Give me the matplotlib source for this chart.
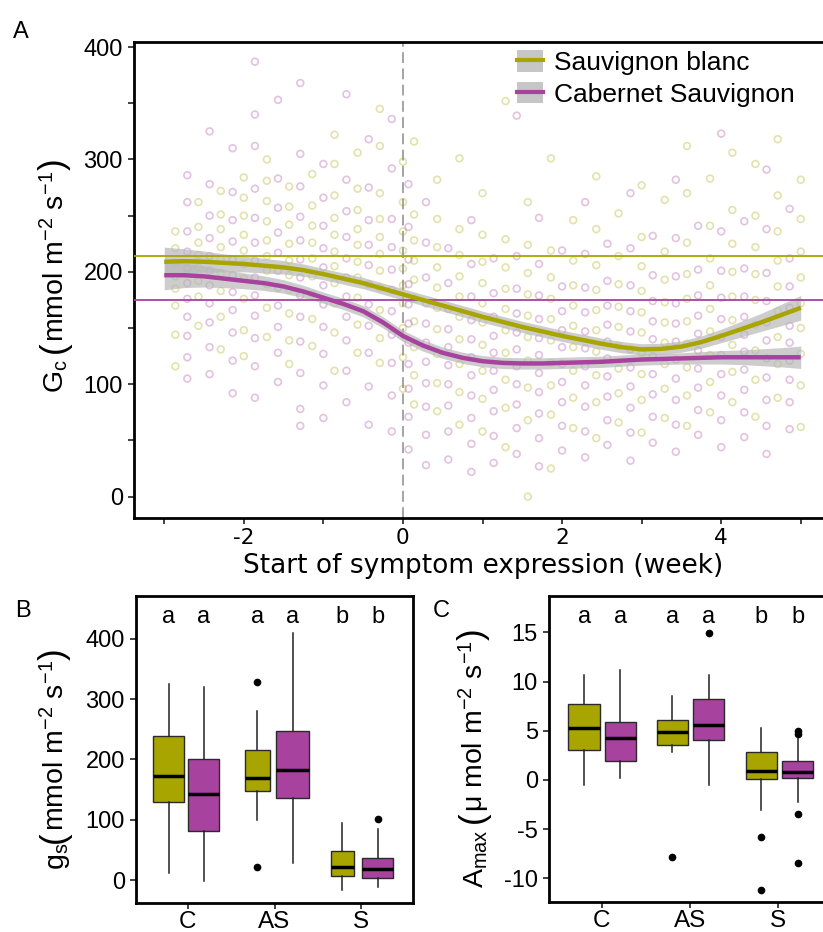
import numpy as np
import matplotlib
matplotlib.use("Agg")
import matplotlib.pyplot as plt
from matplotlib.patches import Patch
from matplotlib.lines import Line2D

plt.rcParams["font.family"] = ["Liberation Sans", "DejaVu Sans"]
plt.rcParams["mathtext.fontset"] = "custom"
plt.rcParams["mathtext.rm"] = "Liberation Sans"
plt.rcParams["mathtext.it"] = "Liberation Sans:italic"
plt.rcParams["mathtext.bf"] = "Liberation Sans:bold"
plt.rcParams["mathtext.default"] = "regular"

# cultivar colours
SB_COL = "#a8a500"
CS_COL = "#a7429f"

# ---- panel A: canopy conductance vs. week from symptom onset ----
sb_week = [-2.86, -2.57, -2.29, -2.00, -1.71, -1.43, -1.14, -0.86, -0.57, -0.29,
           0.00, 0.14, 0.43, 0.71, 1.00, 1.29, 1.57, 1.86, 2.14, 2.43,
           2.71, 3.00, 3.29, 3.57, 3.86, 4.14, 4.43, 4.71, 5.00]
sb_gc = [
    [116, 144, 170, 185, 196, 208, 221, 236],
    [152, 178, 192, 204, 215, 226, 240, 262],
    [131, 160, 183, 199, 211, 222, 238, 251, 272],
    [125, 148, 176, 194, 207, 219, 233, 250, 266, 284],
    [142, 168, 189, 201, 214, 228, 245, 263, 281, 300],
    [118, 139, 163, 184, 197, 210, 225, 242, 258, 276],
    [134, 158, 180, 196, 212, 226, 241, 259, 287],
    [112, 146, 172, 190, 205, 218, 233, 248, 268, 296, 322],
    [128, 153, 177, 195, 209, 224, 238, 255, 274, 306],
    [119, 141, 166, 186, 201, 216, 231, 247, 270, 312, 345],
    [96, 124, 150, 172, 188, 203, 219, 236, 262, 298],
    [82, 108, 133, 156, 176, 193, 210, 228, 251, 316],
    [76, 101, 127, 149, 168, 186, 204, 222, 247, 282],
    [64, 93, 118, 140, 160, 178, 196, 215, 238, 301],
    [58, 87, 112, 135, 155, 172, 190, 209, 233, 270],
    [44, 79, 104, 128, 148, 167, 185, 204, 229, 352],
    [0, 68, 97, 121, 142, 161, 180, 199, 224, 262],
    [25, 73, 99, 119, 139, 158, 176, 195, 219, 301],
    [61, 88, 112, 133, 152, 170, 188, 210, 246],
    [52, 84, 108, 129, 148, 166, 184, 206, 238, 285],
    [66, 92, 114, 134, 151, 169, 189, 214, 252],
    [57, 86, 109, 128, 146, 164, 183, 205, 231, 277],
    [70, 96, 118, 137, 155, 173, 193, 218, 264],
    [63, 90, 115, 136, 156, 176, 198, 226, 270, 312],
    [75, 102, 126, 147, 167, 188, 212, 241, 283],
    [84, 111, 135, 157, 178, 200, 225, 255, 306],
    [71, 104, 130, 153, 175, 198, 222, 250, 296],
    [88, 118, 142, 165, 187, 210, 236, 268, 318],
    [62, 99, 127, 150, 172, 195, 218, 247, 282],
]
cs_week = [-2.71, -2.43, -2.14, -1.86, -1.57, -1.29, -1.00, -0.71, -0.43, -0.14,
           0.07, 0.29, 0.57, 0.86, 1.14, 1.43, 1.71, 2.00, 2.29, 2.57,
           2.86, 3.14, 3.43, 3.71, 4.00, 4.29, 4.57, 4.86]
cs_gc = [
    [105, 124, 143, 160, 176, 190, 203, 218, 236, 262, 286],
    [109, 133, 155, 172, 188, 201, 214, 230, 250, 278, 325],
    [92, 121, 146, 166, 182, 197, 211, 227, 246, 271, 310],
    [88, 116, 141, 161, 179, 195, 210, 226, 248, 274, 312, 340, 387],
    [102, 128, 151, 170, 186, 201, 217, 235, 257, 283, 353],
    [63, 78, 110, 138, 160, 179, 195, 211, 228, 249, 276, 305, 368],
    [70, 99, 127, 151, 171, 188, 204, 221, 241, 266, 296],
    [84, 112, 139, 160, 178, 195, 212, 231, 254, 282, 358],
    [64, 98, 128, 152, 171, 189, 206, 224, 246, 275, 318],
    [58, 90, 119, 144, 165, 184, 202, 222, 247, 292, 336],
    [42, 71, 96, 118, 137, 154, 171, 189, 211, 240, 278],
    [28, 55, 80, 101, 120, 137, 154, 172, 195, 226, 262],
    [33, 58, 81, 100, 117, 133, 149, 167, 190, 221],
    [22, 47, 70, 90, 108, 124, 140, 157, 178, 207, 246],
    [30, 54, 76, 95, 112, 128, 143, 160, 181, 212],
    [38, 61, 82, 100, 116, 131, 146, 163, 185, 214, 339],
    [27, 52, 74, 93, 110, 126, 141, 158, 179, 207, 248],
    [41, 63, 84, 102, 118, 133, 148, 165, 187, 219],
    [35, 58, 80, 99, 116, 132, 147, 164, 186, 216, 262],
    [46, 68, 89, 107, 123, 138, 153, 170, 192, 225],
    [32, 57, 79, 98, 115, 131, 147, 165, 188, 221, 270],
    [48, 71, 91, 109, 125, 140, 156, 174, 197, 232],
    [40, 64, 86, 105, 122, 138, 154, 172, 196, 230, 282],
    [55, 77, 97, 114, 130, 145, 161, 179, 202, 241],
    [44, 68, 90, 109, 126, 142, 158, 177, 201, 236, 323],
    [53, 75, 95, 113, 129, 144, 160, 178, 203, 245],
    [38, 63, 86, 106, 123, 139, 155, 174, 199, 238, 291],
    [60, 84, 104, 121, 137, 152, 168, 187, 212, 256],
]

# loess fits (read every quarter week) and their standard error half-widths
fit_week = [-3, -2.75, -2.5, -2.25, -2, -1.75, -1.5, -1.25, -1, -0.75, -0.5, -0.25,
            0, 0.25, 0.5, 0.75, 1, 1.25, 1.5, 1.75, 2, 2.25, 2.5, 2.75,
            3, 3.25, 3.5, 3.75, 4, 4.25, 4.5, 4.75, 5]
sb_fit = [209, 209.5, 209, 208, 207, 205.5, 204, 201.5, 198, 194, 190, 185,
          180, 175, 170, 165, 160, 155.5, 151, 147, 143, 139.5, 136, 133,
          131, 131.5, 133.5, 137.5, 143, 149, 155, 161.5, 168]
sb_se = [13, 11, 9.5, 8, 7, 6.5, 6, 5.5, 5, 5, 5, 5, 5, 5, 5, 5, 5, 5, 5, 5,
         5, 5, 5, 5, 5, 5, 5, 5.5, 6, 7, 8, 9.5, 11]
cs_fit = [197, 197, 196, 194, 192, 190, 187, 182.5, 177, 171.5, 165, 155,
          143, 134.5, 128, 123.5, 120.5, 119, 118.5, 118.5, 119, 119.5, 120, 121,
          122, 122.5, 123, 123.5, 124, 124, 124, 124, 124]
cs_se = [13, 11, 9.5, 8, 7, 6.5, 6, 5.5, 5, 5, 5, 5, 5, 5, 5, 5, 5, 5, 5, 5,
         5, 5, 5, 5, 5, 5, 5, 5.5, 6, 6.5, 7.5, 8.5, 10]

# control means
sb_ctrl = 214
cs_ctrl = 175

# ---- panels B and C: box statistics ----
classes = ["C", "AS", "S"]
# order: C-SB, C-CS, AS-SB, AS-CS, S-SB, S-CS
gs_lo = [12, -1, 99, 29, -16, -11]
gs_q1 = [129, 81, 148, 136, 6, 3]
gs_med = [172, 143, 169, 182, 22, 19]
gs_q3 = [239, 200, 216, 247, 49, 37]
gs_hi = [325, 320, 280, 410, 95, 84]
gs_out = [[], [], [328, 22], [], [], [101]]
gs_letters = ["a", "a", "a", "a", "b", "b"]

amax_lo = [-0.5, 0.24, 2.84, -0.5, -3.1, -2.2]
amax_q1 = [3.05, 1.96, 3.59, 4.06, 0.14, 0.17]
amax_med = [5.3, 4.23, 4.87, 5.55, 0.95, 0.78]
amax_q3 = [7.68, 5.89, 6.1, 8.2, 2.84, 1.95]
amax_hi = [10.7, 11.2, 8.53, 10.7, 5.25, 4.4]
amax_out = [[], [], [-7.8], [14.99], [-5.8, -11.2], [5.0, 4.7, -3.47, -8.4]]
amax_letters = ["a", "a", "a", "a", "b", "b"]

box_cols = [SB_COL, CS_COL] * 3

W, H = 823, 932
TICK_FS = 17
LAB_FS = 20.5
PAREN_FS = 25


def px_axes(fig, left, top, right, bottom):
    return fig.add_axes([left / W, 1 - bottom / H, (right - left) / W, (bottom - top) / H])


def style_axes(ax):
    for s in ax.spines.values():
        s.set_linewidth(2.0)
    ax.tick_params(direction="out", length=4.5, width=1.3, color="#333333")


def draw_boxes(ax, lo, q1, med, q3, hi, out, pos, widths):
    stats = []
    for i in range(len(med)):
        stats.append(dict(whislo=lo[i], q1=q1[i], med=med[i], q3=q3[i],
                          whishi=hi[i], fliers=out[i]))
    bp = ax.bxp(stats, positions=pos, widths=widths, patch_artist=True,
                showcaps=False, manage_ticks=False,
                boxprops=dict(edgecolor="#2a2a2a", linewidth=1.0),
                medianprops=dict(color="black", linewidth=2.5),
                whiskerprops=dict(color="#222222", linewidth=1.1),
                flierprops=dict(marker="o", markerfacecolor="black",
                                markeredgecolor="black", markersize=4.5))
    for patch, c in zip(bp["boxes"], box_cols):
        patch.set_facecolor(c)


def vertical_label(fig, x_base, y_mid, pieces):
    # pieces: (text, fontsize, gap after in px); stacked bottom-to-top along a shared baseline
    rend = fig.canvas.get_renderer()
    texts, lens = [], []
    for s, fs, gap in pieces:
        t = fig.text(0, 0, s, fontsize=fs, rotation=90, rotation_mode="anchor",
                     ha="left", va="baseline")
        texts.append(t)
        lens.append(t.get_window_extent(rend).height + gap)
    y = y_mid + sum(lens) / 2
    for t, L in zip(texts, lens):
        t.set_position((x_base / W, 1 - y / H))
        y -= L


fig = plt.figure(figsize=(W / 100, H / 100), dpi=100)

# ---------------- panel A ----------------
axA = px_axes(fig, 134, 42, 831, 518)
style_axes(axA)
axA.axvline(0, color="#9d9d9d", lw=1.3, ls=(0, (6, 3)), zorder=1)

for weeks, vals, col in [(sb_week, sb_gc, SB_COL), (cs_week, cs_gc, CS_COL)]:
    xs = np.concatenate([[w] * len(v) for w, v in zip(weeks, vals)])
    ys = np.concatenate(vals)
    axA.scatter(xs, ys, s=24, facecolors="none", edgecolors=col,
                linewidths=1.2, alpha=0.32, zorder=2)

fw = np.array(fit_week)
for fit, se in [(sb_fit, sb_se), (cs_fit, cs_se)]:
    f = np.array(fit)
    e = np.array(se)
    axA.fill_between(fw, f - e, f + e, color="#b8b8b8", alpha=0.7, lw=0, zorder=3)

axA.axhline(sb_ctrl, color=SB_COL, lw=1.3, zorder=4)
axA.axhline(cs_ctrl, color=CS_COL, lw=1.3, zorder=4)
axA.plot(fw, sb_fit, color=SB_COL, lw=3.2, zorder=5, solid_capstyle="butt")
axA.plot(fw, cs_fit, color=CS_COL, lw=3.2, zorder=5, solid_capstyle="butt")

axA.set_xlim(-3.38, 5.38)
axA.set_ylim(-19, 404.5)
axA.set_xticks(np.arange(-3, 6))
axA.set_xticklabels(["" if t % 2 else str(t) for t in range(-3, 6)],
                    family="DejaVu Sans", fontsize=15.5)
axA.set_yticks(np.arange(0, 401, 50))
axA.set_yticklabels([str(t) if t % 100 == 0 else "" for t in range(0, 401, 50)],
                    fontsize=TICK_FS)
axA.tick_params(axis="x", pad=3)

handles = [(Patch(facecolor="#c6c6c6", edgecolor="none"), Line2D([], [], color=SB_COL, lw=3)),
           (Patch(facecolor="#c6c6c6", edgecolor="none"), Line2D([], [], color=CS_COL, lw=3))]
axA.legend(handles, ["Sauvignon blanc", "Cabernet Sauvignon"], loc="upper left",
           bbox_to_anchor=(517 / W, 1 - 50 / H), bbox_transform=fig.transFigure,
           frameon=False, fontsize=19, handlelength=1.0, handleheight=0.88,
           handletextpad=0.42, labelspacing=0.26, borderpad=0, borderaxespad=0)

fig.text(483 / W, 1 - 573 / H, "Start of symptom expression (week)",
         family="DejaVu Sans", fontsize=19, ha="center", va="baseline")
vertical_label(fig, 64, 276, [(r"G$_\mathrm{c}$", LAB_FS, 6), ("(", PAREN_FS, 0),
                              (r"mmol m$^{-2}$ s$^{-1}$", LAB_FS, 0), (")", PAREN_FS, 0)])
fig.text(13 / W, 1 - 38 / H, "A", fontsize=17, va="baseline")

# ---------------- panel B ----------------
axB = px_axes(fig, 136, 596, 413, 903)
style_axes(axB)
posB = [0.78, 1.18, 1.80, 2.21, 2.785, 3.19]
widB = [0.36, 0.36, 0.29, 0.38, 0.26, 0.36]
draw_boxes(axB, gs_lo, gs_q1, gs_med, gs_q3, gs_hi, gs_out, posB, widB)
for p, t in zip(posB, gs_letters):
    axB.text(p, 426, t, ha="center", va="baseline", fontsize=17)
axB.set_xlim(0.4, 3.6)
axB.set_ylim(-38, 471)
axB.set_xticks([1, 2, 3])
axB.set_xticklabels(classes, fontsize=17.5)
axB.tick_params(axis="x", pad=1.5)
axB.set_yticks([0, 100, 200, 300, 400])
axB.set_yticklabels(["0", "100", "200", "300", "400"], fontsize=TICK_FS)
vertical_label(fig, 64, 759, [(r"g$_\mathrm{s}$", LAB_FS, 0), ("(", PAREN_FS, 0),
                              (r"mmol m$^{-2}$ s$^{-1}$", LAB_FS, 0), (")", PAREN_FS, 0)])
fig.text(15 / W, 1 - 617 / H, "B", fontsize=17, va="baseline")

# ---------------- panel C ----------------
axC = px_axes(fig, 549, 596, 831, 902)
style_axes(axC)
posC = [0.80, 1.21, 1.80, 2.21, 2.81, 3.22]
widC = [0.36] * 6
draw_boxes(axC, amax_lo, amax_q1, amax_med, amax_q3, amax_hi, amax_out, posC, widC)
for p, t in zip(posC, amax_letters):
    axC.text(p, 15.97, t, ha="center", va="baseline", fontsize=17)
axC.set_xlim(0.4, 3.6)
axC.set_ylim(-12.4, 18.7)
axC.set_xticks([1, 2, 3])
axC.set_xticklabels(classes, fontsize=17.5)
axC.tick_params(axis="x", pad=1.5)
axC.set_yticks([-10, -5, 0, 5, 10, 15])
axC.set_yticklabels(["-10", "-5", "0", "5", "10", "15"], fontsize=TICK_FS)
vertical_label(fig, 483, 758, [(r"A$_\mathrm{max}$", LAB_FS, 6), ("(", PAREN_FS, 0),
                               (r"μ mol m$^{-2}$ s$^{-1}$", LAB_FS, 0), (")", PAREN_FS, 0)])
fig.text(433 / W, 1 - 617 / H, "C", fontsize=17, va="baseline")

fig.savefig("out.png", dpi=100)
